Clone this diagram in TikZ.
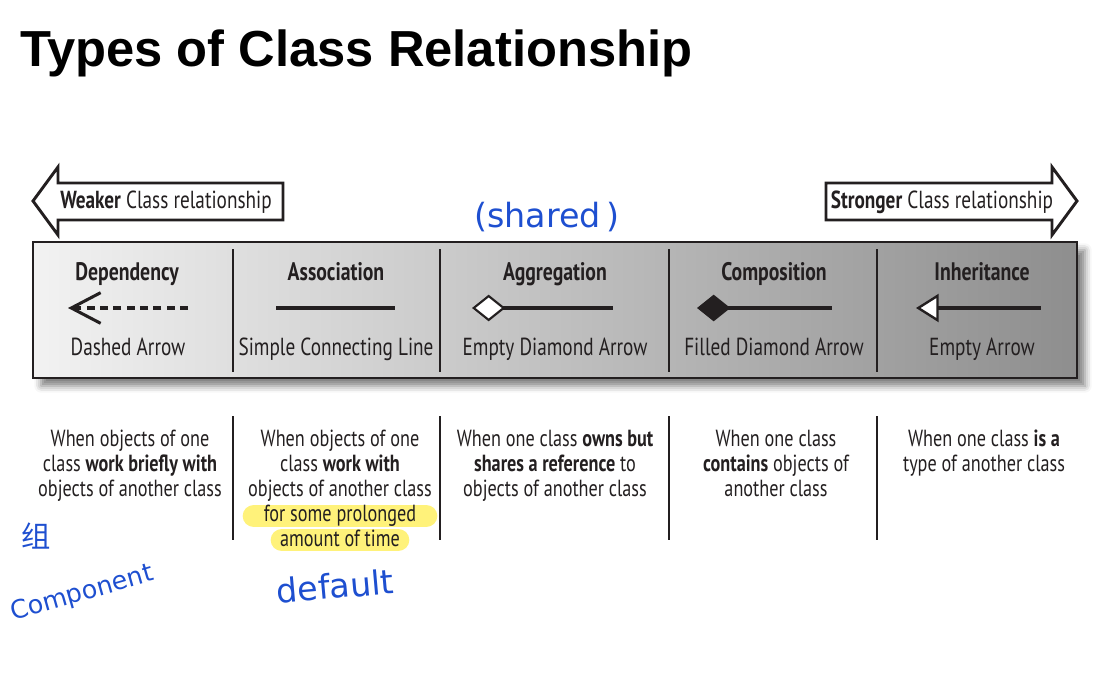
\documentclass[tikz,border=0pt]{standalone}
\usepackage{fontspec}
\setmainfont{Liberation Sans}
\newfontfamily\condfont[FakeStretch=0.78]{PT Sans}
\newfontfamily\handfont{DejaVu Sans}
\newfontfamily\cjkfont{Noto Sans CJK SC}
\usetikzlibrary{arrows.meta,positioning,shadows.blur}

\definecolor{inkdark}{HTML}{231F20}
\definecolor{boxleft}{HTML}{F2F2F2}
\definecolor{boxright}{HTML}{8E8E8E}
\definecolor{handblue}{HTML}{1E4FD0}
\definecolor{hiyellow}{HTML}{FFF27A}

\begin{document}
\begin{tikzpicture}[
    x=0.75pt, y=-0.75pt,
    every node/.style={text=inkdark, inner sep=0pt},
    heading/.style={anchor=base, font=\condfont\bfseries\fontsize{19}{22}\selectfont},
    subtitle/.style={anchor=base, font=\condfont\fontsize{18.5}{22}\selectfont},
    desc/.style={font=\condfont\fontsize{17.5}{18.75}\selectfont, align=center, anchor=north},
    relline/.style={line width=2.3pt, draw=inkdark},
    divider/.style={line width=1.8pt, draw=inkdark},
    bigarrow/.style={draw=inkdark, line width=2.2pt, fill=white, line join=miter},
    hand/.style={text=handblue, font=\handfont\fontsize{23}{25}\selectfont},
    hilite/.style={line width=17pt, draw=hiyellow, line cap=round},
]
  \useasboundingbox (0,0) rectangle (1107,674);

  % title
  \node[anchor=base west, font=\bfseries\fontsize{38}{40}\selectfont, text=black] (title) at (20,67) {Types of Class Relationship};

  % weaker / stronger arrows
  \draw[bigarrow] (283,183) -- (58,183) -- (58,167) -- (33,201) -- (58,235) -- (58,220) -- (283,220) -- cycle;
  \node[anchor=base, font=\condfont\fontsize{18.5}{20}\selectfont] (weak) at (166,208) {\textbf{Weaker} Class relationship};
  \draw[bigarrow] (826,183) -- (1052,183) -- (1052,167) -- (1077,201) -- (1052,235) -- (1052,220) -- (826,220) -- cycle;
  \node[anchor=base, font=\condfont\fontsize{18.5}{20}\selectfont] (strong) at (942,208) {\textbf{Stronger} Class relationship};

  % main box
  \draw[line width=2.2pt, draw=inkdark, left color=boxleft, right color=boxright,
        blur shadow={shadow xshift=6pt, shadow yshift=-6pt, shadow blur radius=5pt, shadow opacity=50}]
    (33,242) rectangle (1077,378);
  \foreach \x in {233,440,669,877} {
    \draw[divider] (\x,249) -- (\x,372);
    \draw[divider] (\x,416) -- (\x,540);
  }

  % headings
  \node[heading] (dep) at (127,280) {Dependency};
  \node[heading] (assoc) at (336,280) {Association};
  \node[heading] (aggr) at (555,280) {Aggregation};
  \node[heading] (comp) at (774,280) {Composition};
  \node[heading] (inh) at (982,280) {Inheritance};

  % subtitles
  \node[subtitle] (dep-s) at (128,355) {Dashed Arrow};
  \node[subtitle] (assoc-s) at (336,355) {Simple Connecting Line};
  \node[subtitle] (aggr-s) at (555,355) {Empty Diamond Arrow};
  \node[subtitle] (comp-s) at (774,355) {Filled Diamond Arrow};
  \node[subtitle] (inh-s) at (982,355) {Empty Arrow};

  % relationship symbols
  \coordinate (dep-a) at (68,308);   \coordinate (dep-b) at (188,308);
  \coordinate (assoc-a) at (276,308); \coordinate (assoc-b) at (395,308);
  \coordinate (aggr-a) at (472,308); \coordinate (aggr-b) at (613,308);
  \coordinate (comp-a) at (697,308); \coordinate (comp-b) at (832,308);
  \coordinate (inh-a) at (916,308);  \coordinate (inh-b) at (1041,308);
  \draw[relline, dash pattern=on 6pt off 4pt, -{Straight Barb[length=22pt, width=23pt]}] (dep-b) -- (dep-a);
  \draw[relline] (assoc-a) -- (assoc-b);
  \draw[relline, {Diamond[fill=white, length=25pt, width=20pt, line width=1.6pt]}-] (aggr-a) -- (aggr-b);
  \draw[relline, {Diamond[fill=inkdark, length=25pt, width=20pt]}-] (comp-a) -- (comp-b);
  \draw[relline, {Triangle[fill=white, length=17pt, width=21pt, line width=1.8pt]}-] (inh-a) -- (inh-b);

  % highlight behind prolonged time
  \draw[hilite] (254,516) -- (426,516);
  \draw[hilite] (282,540) -- (398,540);

  % descriptions
  \node[desc] (dep-d) at (130,430) {When objects of one\\class \textbf{work briefly with}\\objects of another class};
  \node[desc] (assoc-d) at (340,430) {When objects of one\\class \textbf{work with}\\objects of another class\\for some prolonged\\amount of time};
  \node[desc] (aggr-d) at (555,430) {When one class \textbf{owns but}\\\textbf{shares a reference} to\\objects of another class};
  \node[desc] (comp-d) at (776,430) {When one class\\\textbf{contains} objects of\\another class};
  \node[desc] (inh-d) at (984,430) {When one class \textbf{is a}\\type of another class};

  % handwritten notes
  \node[hand, font=\handfont\fontsize{25}{27}\selectfont] (shared) at (547,217) {(shared\,)};
  \node[hand, font=\cjkfont\fontsize{22}{24}\selectfont] (zu) at (36,536) {组};
  \node[hand, rotate=16, font=\handfont\fontsize{19}{21}\selectfont] (component) at (82,594) {Component};
  \node[hand, rotate=5, font=\handfont\fontsize{25}{27}\selectfont] (default) at (335,586) {default};
\end{tikzpicture}
\end{document}
